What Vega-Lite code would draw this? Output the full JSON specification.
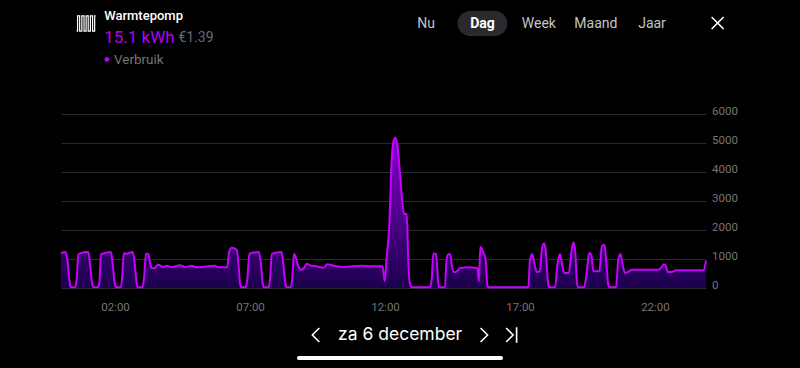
{
"$schema":"https://vega.github.io/schema/vega-lite/v6.json",
"autosize":"none","width":645,"height":174,
"padding":{"left":61,"top":114,"right":94,"bottom":80},
"background":"#000000",
"config":{"view":{"stroke":null},"text":{"font":"Roboto"}},
"datasets":{"verbruik":[
{"uur":0,"watt":1206},{"uur":0.16,"watt":1241},{"uur":0.23,"watt":1034},{"uur":0.31,"watt":287},{"uur":0.36,"watt":23},{"uur":0.52,"watt":23},{"uur":0.58,"watt":287},{"uur":0.64,"watt":1149},{"uur":0.7,"watt":1195},{"uur":1.01,"watt":1241},{"uur":1.07,"watt":862},{"uur":1.15,"watt":172},{"uur":1.2,"watt":23},{"uur":1.36,"watt":23},{"uur":1.42,"watt":172},{"uur":1.48,"watt":1149},{"uur":1.54,"watt":1183},{"uur":1.85,"watt":1241},{"uur":1.91,"watt":862},{"uur":1.99,"watt":172},{"uur":2.04,"watt":23},{"uur":2.21,"watt":23},{"uur":2.26,"watt":287},{"uur":2.33,"watt":1206},{"uur":2.41,"watt":1183},{"uur":2.65,"watt":1241},{"uur":2.73,"watt":862},{"uur":2.8,"watt":172},{"uur":2.85,"watt":23},{"uur":3.02,"watt":23},{"uur":3.07,"watt":287},{"uur":3.15,"watt":1183},{"uur":3.23,"watt":1183},{"uur":3.3,"watt":862},{"uur":3.36,"watt":678},{"uur":3.44,"watt":678},{"uur":3.6,"watt":804},{"uur":3.79,"watt":724},{"uur":3.91,"watt":770},{"uur":4.1,"watt":724},{"uur":4.41,"watt":781},{"uur":4.59,"watt":724},{"uur":4.84,"watt":770},{"uur":5.02,"watt":712},{"uur":5.7,"watt":770},{"uur":5.83,"watt":712},{"uur":6.16,"watt":712},{"uur":6.22,"watt":1206},{"uur":6.32,"watt":1390},{"uur":6.51,"watt":1321},{"uur":6.57,"watt":862},{"uur":6.63,"watt":172},{"uur":6.68,"watt":23},{"uur":6.84,"watt":23},{"uur":6.9,"watt":287},{"uur":6.98,"watt":1183},{"uur":7.33,"watt":1241},{"uur":7.4,"watt":862},{"uur":7.47,"watt":172},{"uur":7.52,"watt":23},{"uur":7.69,"watt":23},{"uur":7.74,"watt":287},{"uur":7.81,"watt":1183},{"uur":8.17,"watt":1241},{"uur":8.23,"watt":862},{"uur":8.31,"watt":172},{"uur":8.36,"watt":23},{"uur":8.51,"watt":23},{"uur":8.56,"watt":287},{"uur":8.63,"watt":1183},{"uur":8.7,"watt":1034},{"uur":8.79,"watt":747},{"uur":8.91,"watt":632},{"uur":9.0,"watt":689},{"uur":9.1,"watt":839},{"uur":9.22,"watt":781},{"uur":9.47,"watt":747},{"uur":9.74,"watt":701},{"uur":9.86,"watt":816},{"uur":10.09,"watt":770},{"uur":10.46,"watt":724},{"uur":11.14,"watt":770},{"uur":11.57,"watt":747},{"uur":11.91,"watt":747},{"uur":11.99,"watt":230},{"uur":12.06,"watt":1034},{"uur":12.16,"watt":2172},{"uur":12.25,"watt":4482},{"uur":12.31,"watt":5044},{"uur":12.38,"watt":5182},{"uur":12.46,"watt":4931},{"uur":12.56,"watt":3896},{"uur":12.64,"watt":2976},{"uur":12.71,"watt":2552},{"uur":12.81,"watt":2552},{"uur":12.86,"watt":1034},{"uur":12.91,"watt":217},{"uur":12.99,"watt":23},{"uur":13.67,"watt":23},{"uur":13.73,"watt":287},{"uur":13.79,"watt":1183},{"uur":13.89,"watt":1183},{"uur":13.94,"watt":632},{"uur":13.99,"watt":23},{"uur":14.22,"watt":23},{"uur":14.28,"watt":977},{"uur":14.35,"watt":1160},{"uur":14.42,"watt":1160},{"uur":14.48,"watt":747},{"uur":14.56,"watt":540},{"uur":14.65,"watt":563},{"uur":14.78,"watt":689},{"uur":14.9,"watt":701},{"uur":15.02,"watt":712},{"uur":15.42,"watt":689},{"uur":15.48,"watt":230},{"uur":15.53,"watt":1413},{"uur":15.64,"watt":1229},{"uur":15.73,"watt":977},{"uur":15.79,"watt":115},{"uur":15.84,"watt":23},{"uur":17.31,"watt":23},{"uur":17.37,"watt":977},{"uur":17.46,"watt":1172},{"uur":17.53,"watt":862},{"uur":17.62,"watt":552},{"uur":17.74,"watt":575},{"uur":17.81,"watt":1321},{"uur":17.89,"watt":1540},{"uur":17.95,"watt":1321},{"uur":18.03,"watt":287},{"uur":18.07,"watt":23},{"uur":18.3,"watt":23},{"uur":18.38,"watt":747},{"uur":18.48,"watt":1172},{"uur":18.54,"watt":919},{"uur":18.64,"watt":517},{"uur":18.81,"watt":529},{"uur":18.9,"watt":1206},{"uur":18.98,"watt":1574},{"uur":19.05,"watt":1206},{"uur":19.12,"watt":115},{"uur":19.17,"watt":23},{"uur":19.37,"watt":23},{"uur":19.47,"watt":517},{"uur":19.56,"watt":1206},{"uur":19.64,"watt":1149},{"uur":19.72,"watt":575},{"uur":19.94,"watt":575},{"uur":20.03,"watt":1436},{"uur":20.13,"watt":1494},{"uur":20.19,"watt":977},{"uur":20.27,"watt":115},{"uur":20.32,"watt":23},{"uur":20.56,"watt":23},{"uur":20.64,"watt":977},{"uur":20.72,"watt":1172},{"uur":20.79,"watt":862},{"uur":20.89,"watt":517},{"uur":21.05,"watt":575},{"uur":21.14,"watt":632},{"uur":22.12,"watt":632},{"uur":22.25,"watt":724},{"uur":22.33,"watt":816},{"uur":22.41,"watt":747},{"uur":22.47,"watt":552},{"uur":22.62,"watt":552},{"uur":22.78,"watt":609},{"uur":23.8,"watt":609},{"uur":23.89,"watt":954}
]},
"layer":[
{"data":{"name":"verbruik"},
 "mark":{"type":"area","interpolate":"monotone","opacity":0.92,"color":{"x1":0,"y1":0,"x2":0,"y2":1,"gradient":"linear","stops":[{"offset":0,"color":"#9000e0"},{"offset":1,"color":"#1e0055"}]}},
 "encoding":{
  "x":{"field":"uur","type":"quantitative","title":null,"scale":{"domain":[0,23.89],"nice":false,"zero":false},
   "axis":{"values":[2,7,12,17,22],"labelExpr":"(datum.value<10?'0':'')+datum.value+':00'","grid":false,"domain":false,"ticks":false,"labelColor":"#757575","labelFont":"Roboto","labelFontSize":11.5,"labelPadding":13}},
  "y":{"field":"watt","type":"quantitative","title":null,"scale":{"domain":[0,6000],"nice":false},
   "axis":{"orient":"right","tickCount":7,"format":"d","values":[0,1000,2000,3000,4000,5000,6000],"grid":true,"gridColor":"#2a2a2a","gridWidth":1,"domain":false,"ticks":false,"labelColor":"#757575","labelFont":"Roboto","labelFontSize":11.5,"labelPadding":5.5,"labelAlign":"left","labelOverlap":false,"labelOffset":-2.5}}
 }},
{"data":{"name":"verbruik"},"mark":{"type":"line","interpolate":"monotone","color":"#c800ff","strokeWidth":2},
 "encoding":{"x":{"field":"uur","type":"quantitative"},"y":{"field":"watt","type":"quantitative"}}},
{"data":{"values":[{"tekst":"Warmtepomp"}]},"mark":{"type":"text","align":"left","baseline":"middle","fontSize":13,"fontWeight":500,"color":"#ffffff"},
 "encoding":{"x":{"datum":1.6},"y":{"datum":9379},"text":{"field":"tekst"}}},
{"data":{"values":[{"tekst":"15.1 kWh"}]},"mark":{"type":"text","align":"left","baseline":"middle","fontSize":17,"color":"#b400f5"},
 "encoding":{"x":{"datum":1.6},"y":{"datum":8620},"text":{"field":"tekst"}}},
{"data":{"values":[{"tekst":"€1.39"}]},"mark":{"type":"text","align":"left","baseline":"middle","fontSize":14,"color":"#666b70"},
 "encoding":{"x":{"datum":4.35},"y":{"datum":8620},"text":{"field":"tekst"}}},
{"data":{"values":[{"tekst":"Verbruik"}]},"mark":{"type":"text","align":"left","baseline":"middle","fontSize":13.5,"color":"#70757a"},
 "encoding":{"x":{"datum":1.96},"y":{"datum":7879},"text":{"field":"tekst"}}},
{"data":{"values":[{"reeks":"Verbruik"}]},"mark":{"type":"point","shape":"circle","filled":true,"size":24,"color":"#b400f5","opacity":1},
 "encoding":{"x":{"datum":1.7},"y":{"datum":7879}}},
{"data":{"values":[{"knop":"Dag"}]},"mark":{"type":"rule","color":"#2a2a2e","strokeWidth":25,"strokeCap":"round"},
 "encoding":{"x":{"datum":15.15},"x2":{"datum":16.07},"y":{"datum":9120}}},
{"data":{"values":[{"tekst":"Nu"}]},"mark":{"type":"text","align":"center","baseline":"middle","fontSize":14,"color":"#c4c4c4"},
 "encoding":{"x":{"datum":13.52},"y":{"datum":9120},"text":{"field":"tekst"}}},
{"data":{"values":[{"tekst":"Dag"}]},"mark":{"type":"text","align":"center","baseline":"middle","fontSize":14,"fontWeight":"bold","color":"#ffffff"},
 "encoding":{"x":{"datum":15.61},"y":{"datum":9120},"text":{"field":"tekst"}}},
{"data":{"values":[{"tekst":"Week"}]},"mark":{"type":"text","align":"center","baseline":"middle","fontSize":14,"color":"#c4c4c4"},
 "encoding":{"x":{"datum":17.7},"y":{"datum":9120},"text":{"field":"tekst"}}},
{"data":{"values":[{"tekst":"Maand"}]},"mark":{"type":"text","align":"center","baseline":"middle","fontSize":14,"color":"#c4c4c4"},
 "encoding":{"x":{"datum":19.81},"y":{"datum":9120},"text":{"field":"tekst"}}},
{"data":{"values":[{"tekst":"Jaar"}]},"mark":{"type":"text","align":"center","baseline":"middle","fontSize":14,"color":"#c4c4c4"},
 "encoding":{"x":{"datum":21.89},"y":{"datum":9120},"text":{"field":"tekst"}}},
{"data":{"values":[{"tekst":"za 6 december"}]},"mark":{"type":"text","align":"center","baseline":"middle","fontSize":17.5,"font":"Inter","color":"#ffffff"},
 "encoding":{"x":{"datum":12.56},"y":{"datum":-1620},"text":{"field":"tekst"}}},
{"data":{"values":[{"icoon":"sluiten"}]},"mark":{"type":"point","shape":"M-1,-1L1,1M-1,1L1,-1","size":144,"filled":false,"color":"#ffffff","strokeWidth":1.6,"opacity":1},
 "encoding":{"x":{"datum":24.32},"y":{"datum":9138}}},
{"data":{"values":[{"icoon":"warmtepomp"}]},"mark":{"type":"point","shape":"M-1,.8L-.9,.8L-.9,-.8L-.68,-.8L-.68,.8L-.45,.8L-.45,-.8L-.22,-.8L-.22,.8L0,.8L0,-.8L.22,-.8L.22,.8L.45,.8L.45,-.8L.68,-.8L.68,.8L.9,.8L.9,-.8L1,-.8","size":361,"filled":false,"color":"#ffffff","strokeWidth":1.2,"opacity":1},
 "encoding":{"x":{"datum":0.93},"y":{"datum":9120}}},
{"data":{"values":[{"icoon":"vorige"}]},"mark":{"type":"point","shape":"M.5,-1L-.5,0L.5,1","size":196,"filled":false,"color":"#ffffff","strokeWidth":1.6,"opacity":1},
 "encoding":{"x":{"datum":9.44},"y":{"datum":-1620}}},
{"data":{"values":[{"icoon":"volgende"}]},"mark":{"type":"point","shape":"M-.5,-1L.5,0L-.5,1","size":196,"filled":false,"color":"#ffffff","strokeWidth":1.6,"opacity":1},
 "encoding":{"x":{"datum":15.67},"y":{"datum":-1620}}},
{"data":{"values":[{"icoon":"laatste"}]},"mark":{"type":"point","shape":"M-.9,-1L.1,0L-.9,1M.6,-1.1L.6,1.1","size":196,"filled":false,"color":"#ffffff","strokeWidth":1.6,"opacity":1},
 "encoding":{"x":{"datum":16.72},"y":{"datum":-1620}}},
{"data":{"values":[{"balk":"home"}]},"mark":{"type":"rule","color":"#ffffff","strokeWidth":4,"strokeCap":"round"},
 "encoding":{"x":{"datum":8.81},"x2":{"datum":16.3},"y":{"datum":-2414}}}
]
}
